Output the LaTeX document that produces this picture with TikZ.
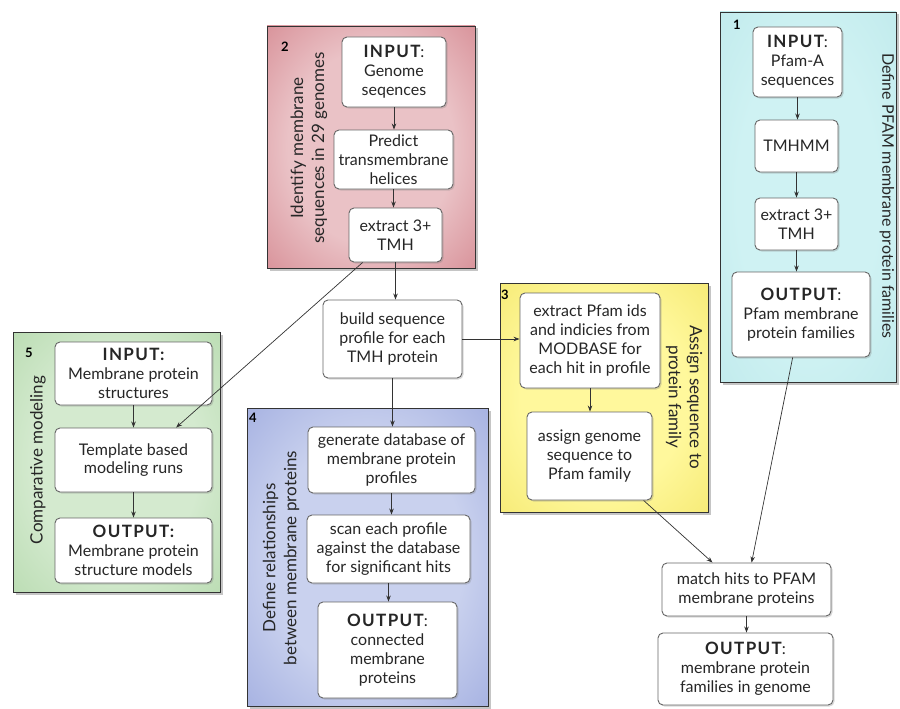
\documentclass[tikz,border=0pt]{standalone}
\usepackage{fontspec}
\setmainfont{Lato}
\usetikzlibrary{shadows,arrows.meta,calc}
\newcommand{\boxfont}{\fontsize{16}{18.8}\selectfont}
\newcommand{\labfont}{\fontsize{17}{21}\selectfont}
\newcommand{\numfont}{\fontsize{13}{14}\selectfont\bfseries}
\newcommand{\hd}[1]{{\fontsize{17}{20}\selectfont\bfseries\addfontfeature{LetterSpace=8}#1}}
\definecolor{redin}{HTML}{EAC2C6}\definecolor{redmid}{HTML}{D68C94}\definecolor{redout}{HTML}{B8505C}
\definecolor{cyanin}{HTML}{CFF2F3}\definecolor{cyanmid}{HTML}{C0EAEC}\definecolor{cyanout}{HTML}{A2D9DD}
\definecolor{grnin}{HTML}{D4EACF}\definecolor{grnmid}{HTML}{B8DBB0}\definecolor{grnout}{HTML}{8EC286}
\definecolor{bluin}{HTML}{C9D1EE}\definecolor{blumid}{HTML}{A2AEE0}\definecolor{bluout}{HTML}{808CCA}
\definecolor{yelin}{HTML}{FFF89C}\definecolor{yelmid}{HTML}{F5E972}\definecolor{yelout}{HTML}{E0CC42}
\pgfdeclareradialshading{redsh}{\pgfpoint{0bp}{0bp}}{color(0bp)=(redin); color(20bp)=(redin); color(38bp)=(redmid); color(50bp)=(redout)}
\pgfdeclareradialshading{cyansh}{\pgfpoint{0bp}{0bp}}{color(0bp)=(cyanin); color(20bp)=(cyanin); color(38bp)=(cyanmid); color(50bp)=(cyanout)}
\pgfdeclareradialshading{grnsh}{\pgfpoint{0bp}{0bp}}{color(0bp)=(grnin); color(20bp)=(grnin); color(38bp)=(grnmid); color(50bp)=(grnout)}
\pgfdeclareradialshading{blush}{\pgfpoint{0bp}{0bp}}{color(0bp)=(bluin); color(20bp)=(bluin); color(38bp)=(blumid); color(50bp)=(bluout)}
\pgfdeclareradialshading{yelsh}{\pgfpoint{0bp}{0bp}}{color(0bp)=(yelin); color(20bp)=(yelin); color(38bp)=(yelmid); color(50bp)=(yelout)}
\tikzset{
 panel/.style={draw=black!80, line width=0.9pt, inner sep=0pt,
   drop shadow={opacity=0.45,shadow xshift=2.5pt,shadow yshift=-2.5pt}},
 box/.style={draw=black!60, line width=0.9pt, fill=white, rounded corners=5pt,
   align=center, inner sep=1pt, font=\boxfont, text=black!85,
   drop shadow={opacity=0.3,shadow xshift=1.5pt,shadow yshift=-1.5pt}},
 arr/.style={draw=black!80, line width=0.7pt, -{Stealth[length=6pt,width=4.5pt]}},
 vlab/.style={font=\labfont, align=center, inner sep=0pt, text=black!85},
 num/.style={font=\numfont, inner sep=0pt}
}
\begin{document}
\begin{tikzpicture}[x=1pt,y=-1pt]
\path[use as bounding box, fill=white] (0,0) rectangle (900,709);
% panels
\node[panel, shading=redsh, minimum width=208pt, minimum height=242pt] (p2) at (371,147) {};
\node[panel, shading=cyansh, minimum width=176pt, minimum height=370pt] (p1) at (808,197) {};
\node[panel, shading=grnsh, minimum width=207pt, minimum height=260pt] (p5) at (116.5,462) {};
\node[panel, shading=blush, minimum width=241pt, minimum height=298pt] (p4) at (367.5,557) {};
\node[panel, shading=yelsh, minimum width=208pt, minimum height=229pt] (p3) at (604,397.5) {};
% panel labels
\node[num] (n2) at (285,47) {2};
\node[num] (n1) at (737,25) {1};
\node[num] (n5) at (29,353) {5};
\node[num] (n4) at (253,418) {4};
\node[num] (n3) at (505,295) {3};
\node[vlab, rotate=90] (l2) at (309,148) {Identify membrane\\sequences in 29 genomes};
\node[vlab, rotate=-90, font=\fontsize{16}{20}\selectfont] (l1) at (887,196) {Define PFAM membrane protein families};
\node[vlab, rotate=90] (l5) at (38,460) {Comparative modeling};
\node[vlab, rotate=90] (l4) at (281,558) {Define relationships\\between membrane proteins};
\node[vlab, rotate=-90] (l3) at (684,397) {Assign sequence to\\protein family};
% boxes
\node[box, minimum width=104pt, minimum height=70pt] (in2) at (394,72) {\hd{INPUT}:\\Genome\\seqences};
\node[box, minimum width=119pt, minimum height=59pt] (pred) at (393.5,159.5) {Predict\\transmembrane\\helices};
\node[box, minimum width=93pt, minimum height=54pt] (ext2) at (395.5,235) {extract 3+\\TMH};
\node[box, minimum width=89pt, minimum height=70pt] (in1) at (797.5,62) {\hd{INPUT}:\\Pfam-A\\sequences};
\node[box, minimum width=83pt, minimum height=52pt] (tmhmm) at (796.5,146) {TMHMM};
\node[box, minimum width=83pt, minimum height=52pt] (ext1) at (796.5,224) {extract 3+\\TMH};
\node[box, minimum width=138pt, minimum height=85pt] (out1) at (801,314.5) {\hd{OUTPUT}:\\Pfam membrane\\protein families};
\node[box, minimum width=157pt, minimum height=63pt] (in5) at (133.5,373.5) {\hd{INPUT:}\\Membrane protein\\structures};
\node[box, minimum width=157pt, minimum height=64pt] (tmpl) at (133.5,460) {Template based\\modeling runs};
\node[box, minimum width=157pt, minimum height=65pt] (out5) at (133.5,550.5) {\hd{OUTPUT:}\\Membrane protein\\structure models};
\node[box, minimum width=139pt, minimum height=78pt] (build) at (392.5,339) {build sequence\\profile for each\\TMH protein};
\node[box, minimum width=167pt, minimum height=66pt] (gen) at (391.5,460) {generate database of\\membrane protein\\profiles};
\node[box, minimum width=163pt, minimum height=68pt] (scan) at (388.5,549) {scan each profile\\against the database\\for significant hits};
\node[box, minimum width=139pt, minimum height=96pt] (out4) at (387.5,650) {\hd{OUTPUT}:\\connected\\membrane\\proteins};
\node[box, minimum width=140pt, minimum height=95pt] (extp) at (590,340.5) {extract Pfam ids\\and indicies from\\MODBASE for\\each hit in profile};
\node[box, minimum width=125pt, minimum height=88pt] (asg) at (589.5,456) {assign genome\\sequence to\\Pfam family};
\node[box, minimum width=169pt, minimum height=53pt] (match) at (746.5,589.5) {match hits to PFAM\\membrane proteins};
\node[box, minimum width=175pt, minimum height=72pt] (outf) at (745.5,669) {\hd{OUTPUT}:\\membrane protein\\families in genome};
% arrows
\draw[arr] (in2.south) -- (in2.south |- pred.north);
\draw[arr] (pred.south) -- (pred.south |- ext2.north);
\draw[arr] (ext2.south) -- (ext2.south |- build.north);
\draw[arr] ($(ext2.south west)!0.15!(ext2.south east)$) -- ($(tmpl.north west)!0.77!(tmpl.north east)$);
\draw[arr] (in1.south) -- (in1.south |- tmhmm.north);
\draw[arr] (tmhmm.south) -- (tmhmm.south |- ext1.north);
\draw[arr] (ext1.south) -- (ext1.south |- out1.north);
\draw[arr] (in5.south) -- (in5.south |- tmpl.north);
\draw[arr] (tmpl.south) -- (tmpl.south |- out5.north);
\draw[arr] (build.south) -- (build.south |- gen.north);
\draw[arr] (build.east) -- (build.east -| extp.west);
\draw[arr] (gen.south) -- (gen.south |- scan.north);
\draw[arr] (scan.south) -- (scan.south |- out4.north);
\draw[arr] (extp.south) -- (extp.south |- asg.north);
\draw[arr] ($(asg.south west)!0.93!(asg.south east)$) -- ($(match.north west)!0.30!(match.north east)$);
\draw[arr] ($(out1.south west)!0.44!(out1.south east)$) -- ($(match.north west)!0.53!(match.north east)$);
\draw[arr] (match.south) -- (match.south |- outf.north);
\end{tikzpicture}
\end{document}
